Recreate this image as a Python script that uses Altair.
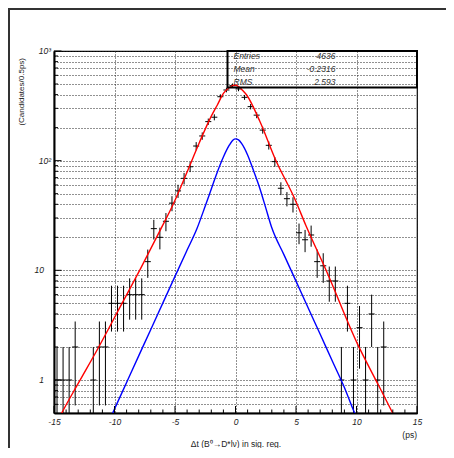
import altair as alt
import pandas as pd
import numpy as np

# ---- histogram: bin centres (0.5 ps bins, non-empty only) and counts ----
bin_t = [-14.75, -14.25, -13.75, -13.25, -11.75, -11.25, -10.75, -10.25, -9.75, -9.25,
         -8.75, -8.25, -7.75, -7.25, -6.75, -6.25, -5.75, -5.25, -4.75, -4.25,
         -3.75, -3.25, -2.75, -2.25, -1.75, -1.25, -0.75, -0.25, 0.25, 0.75,
         1.25, 1.75, 2.25, 2.75, 3.25, 3.75, 4.25, 4.75, 5.25, 5.75,
         6.25, 6.75, 7.25, 7.75, 8.25, 8.75, 9.25, 9.75, 10.25, 10.75,
         11.25, 11.75, 12.25]
counts = [1, 1, 1, 2, 1, 2, 2, 5, 5, 5,
          6, 6, 6, 12, 24, 20, 28, 41, 53, 69,
          88, 136, 168, 227, 249, 383, 441, 483, 451, 378,
          311, 260, 190, 138, 98, 56, 45, 40, 22, 19,
          21, 12, 11, 8, 8, 1, 5, 1, 3, 1,
          4, 1, 2]

# ---- red fit curve ----
red_t = [-15.0, -14.4, -13.0, -11.3, -9.4, -7.9, -6.24, -5.14, -4.0, -3.0, -2.0, -1.5, -1.0,
         -0.5, -0.05, 0.3, 0.6, 0.92, 2.0, 3.3, 4.94, 5.8, 7.56, 10.04, 11.83, 12.99, 13.6]
red_v = [0.36, 0.49, 0.93, 2.0, 4.94, 10.1, 23, 40.3, 78.9, 145, 255, 322, 410,
         465, 490, 470, 436, 397, 230, 102.6, 43.8, 25.9, 9.6, 2.18, 0.89, 0.50, 0.37]

# ---- blue component ----
blue_t = [-10.6, -10.15, -9.0, -8.0, -7.0, -6.0, -5.0, -4.0, -3.2, -2.5, -2.0, -1.5, -1.0,
          -0.5, -0.2, 0.0, 0.25, 0.5, 1.0, 1.5, 2.0, 2.5, 3.0, 4.0, 5.0, 6.0, 7.0, 8.0,
          9.0, 9.85, 10.3]
blue_v = [0.39, 0.50, 0.95, 1.66, 2.89, 5.05, 8.8, 15.3, 23.8, 38.6, 55.2, 78.9, 108,
          139, 154.5, 158, 154.5, 143.6, 112.7, 80.5, 56.4, 37.1, 24.4, 13.9, 7.97, 4.56,
          2.61, 1.49, 0.855, 0.50, 0.40]

# ---- axes ----
x_major = [-15, -10, -5, 0, 5, 10, 15]
x_minor = [-14, -13, -12, -11, -9, -8, -7, -6, -4, -3, -2, -1,
           1, 2, 3, 4, 6, 7, 8, 9, 11, 12, 13, 14]
y_major = [1, 10, 100, 1000]
y_minor = [0.6, 0.7, 0.8, 0.9, 2, 3, 4, 5, 6, 7, 8, 9,
           20, 30, 40, 50, 60, 70, 80, 90, 200, 300, 400, 500, 600, 700, 800, 900]
y_plain_labels_v = [1, 10]
y_plain_labels_t = ["1", "10"]
y_sup_labels_v = [100, 1000]
y_sup_labels_t = ["10²", "10³"]

stats_names = ["Entries", "Mean", "RMS"]
stats_values = ["4636", "-0.2316", "2.593"]

x_title = "Δt  (B⁰→D*lν) in sig. reg."
x_unit = "(ps)"
y_title = "(Candidates/0.5ps)"

FONT = "Liberation Sans"
W, H = 363, 362

xs = alt.Scale(domain=[-15, 15], nice=False, zero=False)
ys = alt.Scale(type="log", domain=[0.5, 1000], nice=False)

df = pd.DataFrame({"t": bin_t, "n": counts})
df["hi"] = df["n"] + np.sqrt(df["n"])
df["lo"] = np.maximum(df["n"] - np.sqrt(df["n"]), 0.5)
df["tl"] = df["t"] - 0.25
df["tr"] = df["t"] + 0.25

grid_vals = [0.5] + y_minor + y_major

x_axis = alt.Axis(values=x_major, grid=True, gridDash=[1, 2], gridColor="#222", gridWidth=1,
                  ticks=False, labelExpr="'' + datum.value", labelFont=FONT, labelFontSize=8.5,
                  labelFontStyle="italic", labelColor="#222", labelPadding=4, title=None,
                  domainColor="black", domainWidth=2, labelFlush=False, labelOverlap=False)
y_axis = alt.Axis(values=grid_vals, grid=True, gridDash=[1, 2], gridColor="#222", gridWidth=1,
                  ticks=False, labels=False, title=None, domainColor="black", domainWidth=2)


def X(field):
    return alt.X(field, type="quantitative", scale=xs, axis=x_axis)


def Y(field):
    return alt.Y(field, type="quantitative", scale=ys, axis=y_axis)


# error bars
vbars = alt.Chart(df).mark_rule(color="black", strokeWidth=1, clip=True).encode(
    x=X("t"), y=Y("lo"), y2="hi")
hbars = alt.Chart(df).mark_rule(color="black", strokeWidth=1, clip=True).encode(
    x=X("tl"), x2="tr", y=Y("n"))

red_df = pd.DataFrame({"t": red_t, "v": red_v})
blue_df = pd.DataFrame({"t": blue_t, "v": blue_v})
red = alt.Chart(red_df).mark_line(color="#ff0000", strokeWidth=1.4, interpolate="monotone",
                                  clip=True).encode(x=X("t"), y=Y("v"))
blue = alt.Chart(blue_df).mark_line(color="#0000ff", strokeWidth=1.4, interpolate="monotone",
                                    clip=True).encode(x=X("t"), y=Y("v"))

# inward ticks
xmaj = alt.Chart(pd.DataFrame({"t": x_major})).mark_rule(color="black", strokeWidth=1).encode(
    x=X("t"), y=alt.value(H), y2=alt.value(H - 7))
xmin = alt.Chart(pd.DataFrame({"t": x_minor})).mark_rule(color="black", strokeWidth=1).encode(
    x=X("t"), y=alt.value(H), y2=alt.value(H - 3.5))
ymaj = alt.Chart(pd.DataFrame({"v": y_major})).mark_rule(color="black", strokeWidth=1).encode(
    y=Y("v"), x=alt.value(0), x2=alt.value(7.5))
ymin = alt.Chart(pd.DataFrame({"v": y_minor})).mark_rule(color="black", strokeWidth=1).encode(
    y=Y("v"), x=alt.value(0), x2=alt.value(4))

# y tick labels
ylab1 = alt.Chart(pd.DataFrame({"v": y_plain_labels_v, "s": y_plain_labels_t})).mark_text(
    align="right", baseline="middle", font=FONT, fontSize=8.5, fontStyle="italic", color="#222").encode(
    y=Y("v"), x=alt.value(-10), text="s:N")
ylab2 = alt.Chart(pd.DataFrame({"v": y_sup_labels_v, "s": y_sup_labels_t})).mark_text(
    align="right", baseline="middle", font=FONT, fontSize=8.5, fontStyle="italic", color="#222").encode(
    y=Y("v"), x=alt.value(-3), text="s:N")

one = pd.DataFrame({"k": [0]})


def label(text, x, y, **kw):
    return alt.Chart(one).mark_text(text=text, font=FONT, **kw).encode(x=alt.value(x), y=alt.value(y))


titles = [
    label(y_title, -32, 7, angle=270, align="right", baseline="middle", fontSize=8, color="#222"),
    label(x_title, 182, 393, align="center", baseline="middle", fontSize=8.5, color="#222"),
    label(x_unit, 363, 384, align="right", baseline="middle", fontSize=8.5, color="#222"),
]

# stats box
box = alt.Chart(one).mark_rect(fill=None, stroke="black", strokeWidth=2).encode(
    x=alt.value(173.5), x2=alt.value(W), y=alt.value(0), y2=alt.value(36.5))
stats = []
for i, (nm, val) in enumerate(zip(stats_names, stats_values)):
    yy = 5 + i * 12.8
    stats.append(label(nm, 179.5, yy, align="left", baseline="middle", fontSize=8.5,
                       fontStyle="italic", color="#333"))
    stats.append(label(val, 281.5, yy, align="right", baseline="middle", fontSize=8.5,
                       fontStyle="italic", color="#333"))

# canvas border (ROOT pad frame)
border_l = alt.Chart(one).mark_rule(color="#333", strokeWidth=2).encode(
    x=alt.value(-45), y=alt.value(-43), y2=alt.value(397))
border_t = alt.Chart(one).mark_rule(color="#333", strokeWidth=2).encode(
    x=alt.value(-46), x2=alt.value(392), y=alt.value(-42))

chart = alt.layer(
    vbars, hbars, red, blue, xmaj, xmin, ymaj, ymin, ylab1, ylab2, box, *stats, *titles,
    border_l, border_t
).properties(
    width=W, height=H,
    padding={"left": 46, "top": 43, "right": 29, "bottom": 35},
    autosize=alt.AutoSizeParams(type="none"),
    background="white",
).configure_view(stroke="black", strokeWidth=1.2)

chart.save("out.html", embed_options={"renderer": "svg", "actions": False})
